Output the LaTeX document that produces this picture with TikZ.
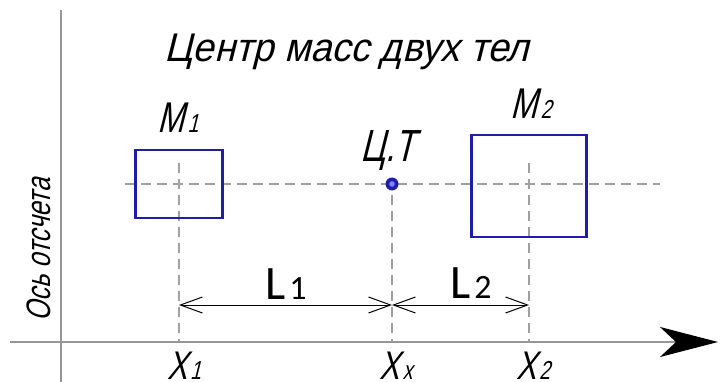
\documentclass[tikz,border=0pt]{standalone}
\usepackage{fontspec}
\newfontfamily\gost[FakeSlant=0.25,FakeStretch=0.75]{Liberation Sans}
\newfontfamily\gostw[FakeSlant=0.25,FakeStretch=0.95]{Liberation Sans}
\newfontfamily\calib{Carlito}
\usetikzlibrary{arrows.meta}
\definecolor{boxblue}{RGB}{30,30,170}
\definecolor{axisgray}{RGB}{150,150,150}
\definecolor{dashgray}{RGB}{160,160,160}
\begin{document}
\begin{tikzpicture}[x=1pt,y=-1pt,
  axisline/.style={draw=axisgray,line width=1.8pt},
  centerline/.style={draw=dashgray,line width=1.2pt,dash pattern=on 10pt off 6pt},
  massbox/.style={draw=boxblue,line width=2.4pt,inner sep=0pt},
  dimline/.style={draw=black,line width=1pt,{Straight Barb[length=22pt,width=16pt]}-{Straight Barb[length=22pt,width=16pt]}},
  gosttext/.style={font=\gost,text=black,inner sep=0pt},
  dimtext/.style={font=\calib,text=black,inner sep=0pt}]
\useasboundingbox (0,0) rectangle (720,382);
\clip (0,0) rectangle (720,382);
% coordinates
\coordinate (vtop) at (61,10);
\coordinate (vbot) at (61,382);
\coordinate (hleft) at (10,342);
\coordinate (hright) at (718,342);
\coordinate (cl) at (125,184);
\coordinate (cr) at (660,184);
\coordinate (v1t) at (179,163);
\coordinate (v1b) at (179,342);
\coordinate (vxt) at (392,195);
\coordinate (vxb) at (392,342);
\coordinate (v2t) at (529,163);
\coordinate (v2b) at (529,342);
\coordinate (d1) at (179,305);
\coordinate (dx) at (392,305);
\coordinate (d2) at (529,305);
% axes
\draw[axisline] (vtop) -- (vbot);
\draw[axisline,-{Stealth[length=58pt,width=30pt,inset=16pt,black,fill=black]}] (hleft) -- (hright);
% center lines
\draw[centerline] (cl) -- (cr);
\draw[centerline] (v1t) -- (v1b);
\draw[centerline] (vxt) -- (vxb);
\draw[centerline] (v2t) -- (v2b);
% boxes
\node[massbox,minimum width=87pt,minimum height=68pt] (box1) at (179,184) {};
\node[massbox,minimum width=115pt,minimum height=102pt] (box2) at (529,186) {};
% centre point
\node[circle,fill=boxblue,inner sep=0pt,minimum size=13pt] (ct) at (392,184) {};
\fill[blue!50] (ct) circle (2.8pt);
% dimensions
\draw[dimline] (d1) -- (dx);
\draw[dimline] (dx) -- (d2);
% texts
\node[gosttext,font=\gostw,anchor=base] (title) at (347,62) {\fontsize{40}{40}\selectfont Центр масс двух тел};
\node[gosttext,anchor=base] (m1) at (178,133) {\fontsize{43}{43}\selectfont M\kern3pt\fontsize{26}{26}\selectfont 1};
\node[gosttext,anchor=base] (m2) at (531,119) {\fontsize{43}{43}\selectfont M\kern3pt\fontsize{26}{26}\selectfont 2};
\node[gosttext,anchor=base] (ctl) at (388,162) {\fontsize{45}{45}\selectfont Ц.Т};
\node[gosttext,anchor=base] (x1) at (184,379) {\fontsize{40}{40}\selectfont X\kern3pt\fontsize{26}{26}\selectfont 1};
\node[gosttext,anchor=base] (xx) at (396,379) {\fontsize{40}{40}\selectfont X\kern3pt\fontsize{26}{26}\selectfont x};
\node[gosttext,anchor=base] (x2) at (533,379) {\fontsize{40}{40}\selectfont X\kern3pt\fontsize{26}{26}\selectfont 2};
\node[gosttext,anchor=base,rotate=90] (axlab) at (50,250) {\fontsize{34}{34}\selectfont Ось отсчета};
\node[dimtext,anchor=base] (l1) at (286,299) {\fontsize{48}{48}\selectfont L\kern4pt\fontsize{34}{34}\selectfont 1};
\node[dimtext,anchor=base] (l2) at (471,298) {\fontsize{48}{48}\selectfont L\kern4pt\fontsize{34}{34}\selectfont 2};
\end{tikzpicture}
\end{document}
